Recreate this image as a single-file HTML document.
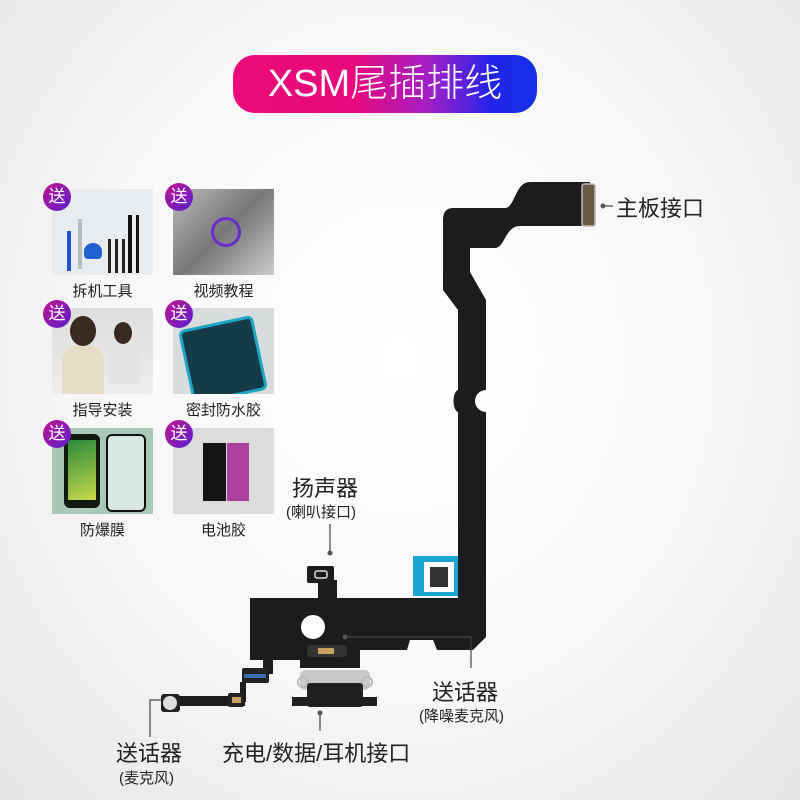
<!DOCTYPE html>
<html><head><meta charset="utf-8"><style>
body{margin:0;width:800px;height:800px;overflow:hidden;background:radial-gradient(ellipse at 50% 45%,#ffffff 0%,#f7f7f7 55%,#e6e6e6 100%);font-family:"Liberation Sans","Noto Sans CJK SC",sans-serif;position:relative}
.pill{position:absolute;left:233px;top:55px;width:304px;height:58px;border-radius:22px;background:linear-gradient(90deg,#ea0a78 0%,#e8097c 40%,#a020c8 65%,#2323ea 85%,#1530e8 100%);color:#fff;font-size:38px;line-height:58px;text-align:center;letter-spacing:0px;font-weight:300}
.th{position:absolute;width:101px;height:86px;background:#d6d6d6;overflow:hidden}
.b{position:absolute;width:28px;height:28px;border-radius:50%;background:linear-gradient(135deg,#c0148c,#5a1fd0);color:#fff;font-size:17px;line-height:28px;text-align:center}
.lb{position:absolute;font-size:15px;color:#222;width:101px;text-align:center}
.t{position:absolute;color:#222;white-space:nowrap}
</style></head><body>
<div class="pill">XSM尾插排线</div>

<div class="th" style="left:52px;top:189px;background:#e9ecef">
 <div style="position:absolute;left:15px;top:42px;width:4px;height:40px;background:#1f4fd0"></div>
 <div style="position:absolute;left:26px;top:30px;width:4px;height:50px;background:#bbb"></div>
 <div style="position:absolute;left:32px;top:54px;width:18px;height:16px;border-radius:50% 50% 4px 4px;background:#2060d0"></div>
 <div style="position:absolute;left:56px;top:50px;width:3px;height:34px;background:#222"></div>
 <div style="position:absolute;left:63px;top:50px;width:3px;height:34px;background:#222"></div>
 <div style="position:absolute;left:70px;top:50px;width:3px;height:34px;background:#222"></div>
 <div style="position:absolute;left:76px;top:26px;width:4px;height:58px;background:#111"></div>
 <div style="position:absolute;left:84px;top:26px;width:3px;height:58px;background:#111"></div>
</div>
<div class="th" style="left:173px;top:189px;background:linear-gradient(135deg,#bbb,#777 50%,#ccc)">
 <div style="position:absolute;left:38px;top:28px;width:24px;height:24px;border:3px solid #6b2ad0;border-radius:50%"></div>
</div>
<div class="th" style="left:52px;top:308px;background:linear-gradient(180deg,#ddd,#eee)">
 <div style="position:absolute;left:18px;top:8px;width:26px;height:30px;border-radius:50%;background:#3a2a22"></div>
 <div style="position:absolute;left:10px;top:38px;width:42px;height:48px;border-radius:14px 14px 0 0;background:#e6ddc8"></div>
 <div style="position:absolute;left:62px;top:14px;width:18px;height:22px;border-radius:50%;background:#3a2a22"></div>
 <div style="position:absolute;left:56px;top:36px;width:32px;height:40px;border-radius:10px 10px 0 0;background:#e4e4e6"></div>
</div>
<div class="th" style="left:173px;top:308px;background:#d9dcdd">
 <div style="position:absolute;left:12px;top:14px;width:70px;height:70px;transform:rotate(-12deg);background:#153a48;border:3px solid #1aa6c4;border-radius:6px"></div>
</div>
<div class="th" style="left:52px;top:428px;background:#a9c8b8">
 <div style="position:absolute;left:12px;top:6px;width:36px;height:74px;background:#101810;border-radius:6px"></div>
 <div style="position:absolute;left:16px;top:12px;width:28px;height:60px;background:linear-gradient(160deg,#2a8a3a,#c8d84a)"></div>
 <div style="position:absolute;left:54px;top:6px;width:36px;height:74px;border:2px solid #111;border-radius:6px;background:#d8e8e0"></div>
</div>
<div class="th" style="left:173px;top:428px;background:#dcdcdc">
 <div style="position:absolute;left:30px;top:15px;width:23px;height:58px;background:#151515"></div>
 <div style="position:absolute;left:54px;top:15px;width:22px;height:58px;background:#b040a0"></div>
</div>
<div class="b" style="left:43px;top:183px">送</div>
<div class="b" style="left:165px;top:183px">送</div>
<div class="b" style="left:43px;top:300px">送</div>
<div class="b" style="left:165px;top:300px">送</div>
<div class="b" style="left:43px;top:420px">送</div>
<div class="b" style="left:165px;top:420px">送</div>
<div class="lb" style="left:52px;top:280px">拆机工具</div>
<div class="lb" style="left:173px;top:280px">视频教程</div>
<div class="lb" style="left:52px;top:399px">指导安装</div>
<div class="lb" style="left:173px;top:399px">密封防水胶</div>
<div class="lb" style="left:52px;top:519px">防爆膜</div>
<div class="lb" style="left:173px;top:519px">电池胶</div>

<svg width="800" height="800" style="position:absolute;left:0;top:0">
 <path d="M453,208 L505,208 C515,208 515,182 530,182 L590,182 L590,226 L520,226 C505,226 505,248 495,248 L470,248 L470,272 L486,300 L486,390 A8 8 0 0 0 486,412 L486,637 L473,650 L437,650 L433,640 L410,640 L407,650 L360,650 L360,668 L300,668 L300,660 L250,660 L250,598 L318,598 L318,580 L337,580 L337,598 L458,598 L458,412 C452,410 452,392 458,390 L458,310 L443,290 L443,220 Q443,208 453,208 Z" fill="#1c1c1e"/>
 <rect x="582" y="184" width="13" height="42" rx="2" fill="#6b5a45" stroke="#bbb" stroke-width="1.5"/>
 <rect x="307" y="566" width="27" height="17" rx="2" fill="#1c1c1e"/>
 <rect x="315" y="571" width="12" height="7" rx="2" fill="none" stroke="#ddd" stroke-width="1.5"/>
 <rect x="413" y="556" width="45" height="40" fill="#1aa6d4"/>
 <rect x="424" y="562" width="30" height="30" fill="#fff"/>
 <rect x="430" y="567" width="18" height="20" fill="#333"/>
 <circle cx="313" cy="627" r="12" fill="#fff"/>
 <rect x="307" y="645" width="40" height="12" rx="4" fill="#333"/>
 <rect x="318" y="648" width="16" height="6" fill="#c8a060"/>
 <!-- left branch -->
 <rect x="263" y="658" width="10" height="16" fill="#1c1c1e"/>
 <rect x="242" y="668" width="27" height="15" rx="2" fill="#222"/>
 <rect x="244" y="674" width="22" height="4" fill="#3a6ab0"/>
 <rect x="240" y="682" width="6" height="20" fill="#1c1c1e"/>
 <rect x="175" y="696" width="70" height="10" fill="#1c1c1e"/>
 <rect x="228" y="693" width="16" height="14" rx="2" fill="#222"/>
 <rect x="232" y="697" width="9" height="6" fill="#c8a060"/>
 <rect x="161" y="694" width="19" height="18" rx="3" fill="#222"/>
 <circle cx="170" cy="703" r="7" fill="#ddd"/>
 <!-- charging port -->
 <rect x="300" y="670" width="70" height="20" rx="5" fill="#c8c8c8"/>
 <circle cx="303" cy="682" r="5" fill="none" stroke="#bbb" stroke-width="2"/>
 <circle cx="367" cy="682" r="5" fill="none" stroke="#bbb" stroke-width="2"/>
 <rect x="307" y="683" width="56" height="24" rx="3" fill="#202020"/>
 <rect x="292" y="697" width="85" height="9" fill="#202020"/>
 <!-- callouts -->
 <g stroke="#444" stroke-width="1.2" fill="none">
  <line x1="603" y1="206" x2="613" y2="206"/>
  <line x1="330" y1="524" x2="330" y2="553"/>
  <polyline points="345,637 471,637 471,668"/>
  <polyline points="163,700 150,700 150,737"/>
  <line x1="320" y1="713" x2="320" y2="731"/>
 </g>
 <g fill="#555">
  <circle cx="603" cy="206" r="2.5"/><circle cx="330" cy="553" r="2.5"/>
  <circle cx="345" cy="637" r="2.5"/><circle cx="320" cy="713" r="2.5"/>
 </g>
</svg>
<div class="t" style="left:616px;top:191px;font-size:22px">主板接口</div>
<div class="t" style="left:292px;top:471px;font-size:22px">扬声器</div>
<div class="t" style="left:286px;top:501px;font-size:15px">(喇叭接口)</div>
<div class="t" style="left:432px;top:675px;font-size:22px">送话器</div>
<div class="t" style="left:419px;top:705px;font-size:15px">(降噪麦克风)</div>
<div class="t" style="left:116px;top:736px;font-size:22px">送话器</div>
<div class="t" style="left:119px;top:767px;font-size:15px">(麦克风)</div>
<div class="t" style="left:222px;top:736px;font-size:22px">充电/数据/耳机接口</div>
</body></html>
